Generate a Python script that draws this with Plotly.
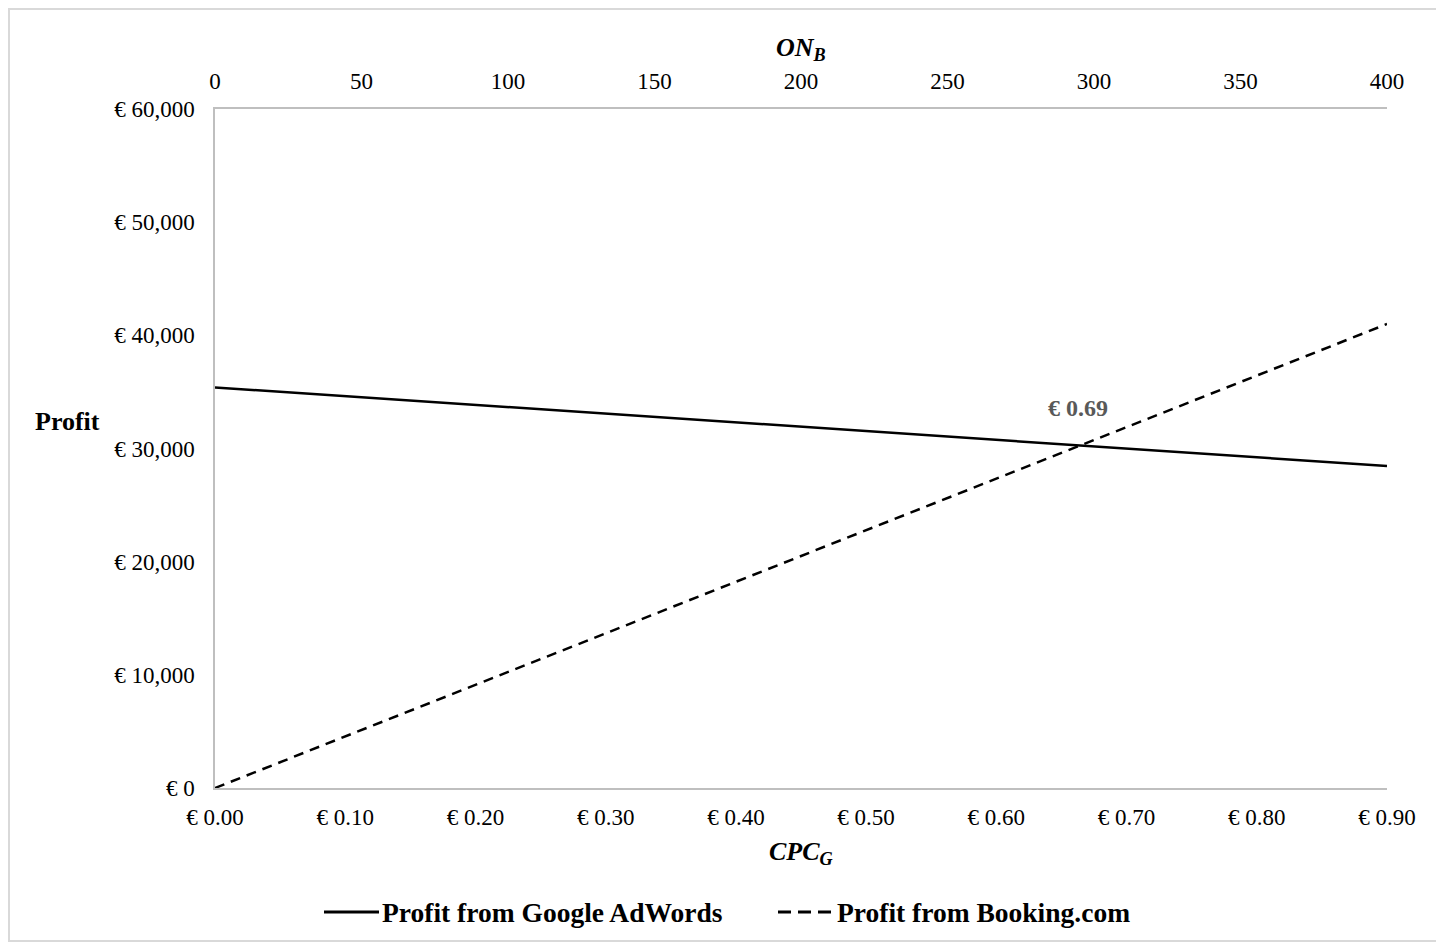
import plotly.graph_objects as go

# Data
cpc_g = [0.0, 0.90]                 # CPC_G (bottom axis)
profit_google = [35400, 28450]      # Profit from Google AdWords
on_b = [0, 400]                     # ON_B (top axis)
profit_booking = [0, 41000]         # Profit from Booking.com
series_names = ["Profit from Google AdWords", "Profit from Booking.com"]
break_even_label = "€ 0.69"
break_even_x = 0.663
break_even_y = 33600

FONT = "Liberation Serif, Times New Roman, serif"
AXIS_COLOR = "#bfbfbf"

# plot area position on the page (reference pixels)
PL, PT, PW, PH = 214, 108, 1172, 679
OFF = 7  # page offset of the figure


def px(x):
    return (x - PL) / PW


def py(y):
    return (PT + PH - y) / PH


fig = go.Figure()
fig.add_trace(go.Scatter(
    x=cpc_g, y=profit_google, mode="lines", name=series_names[0],
    line=dict(color="black", width=2.5), xaxis="x", yaxis="y"))
fig.add_trace(go.Scatter(
    x=on_b, y=profit_booking, mode="lines", name=series_names[1],
    line=dict(color="black", width=2.5, dash="10px,7px"), xaxis="x2", yaxis="y"))

fig.update_layout(
    width=1444, height=942,
    margin=dict(l=PL - OFF, r=1444 - PL - PW + OFF, t=PT - OFF, b=942 - PT - PH + OFF),
    paper_bgcolor="white", plot_bgcolor="white",
    font=dict(family=FONT, size=23, color="black"),
    showlegend=False,
    xaxis=dict(range=[0, 0.9], dtick=0.1, tick0=0, tickprefix="€ ", tickformat=".2f",
               showgrid=False, zeroline=False, showline=True, linecolor=AXIS_COLOR, linewidth=1.5,
               ticks="", ticklabelstandoff=8, tickfont=dict(size=23)),
    xaxis2=dict(range=[0, 400], dtick=50, tick0=0, overlaying="x", side="top",
                showgrid=False, zeroline=False, showline=True, linecolor=AXIS_COLOR, linewidth=1.5,
                ticks="", ticklabelstandoff=9, tickfont=dict(size=23)),
    yaxis=dict(range=[0, 60000], dtick=10000, tickprefix="€ ", tickformat=",d",
               showgrid=False, zeroline=False, showline=True, linecolor=AXIS_COLOR, linewidth=1.5,
               ticks="", ticklabelstandoff=14, tickfont=dict(size=23)),
)

fig.add_annotation(text="<b>Profit</b>", xref="paper", yref="paper",
                   x=px(66), y=py(420), xanchor="center", yanchor="middle", showarrow=False,
                   font=dict(family=FONT, size=26, color="black"))
fig.add_annotation(text="<b><i>ON<sub>B</sub></i></b>", xref="paper", yref="paper",
                   x=px(800), y=py(48), xanchor="center", yanchor="middle", showarrow=False,
                   font=dict(family=FONT, size=26, color="black"))
fig.add_annotation(text="<b><i>CPC<sub>G</sub></i></b>", xref="paper", yref="paper",
                   x=px(800), y=py(852), xanchor="center", yanchor="middle", showarrow=False,
                   font=dict(family=FONT, size=26, color="black"))
fig.add_annotation(text="<b>" + break_even_label + "</b>", xref="x", yref="y",
                   x=break_even_x, y=break_even_y, xanchor="center", yanchor="middle",
                   showarrow=False,
                   font=dict(family=FONT, size=24, color="#595959"))

# legend (drawn manually to match sample lengths)
LEG_Y = py(911)
fig.add_shape(type="line", xref="paper", yref="paper", x0=px(323), x1=px(378), y0=LEG_Y, y1=LEG_Y,
              line=dict(color="black", width=3))
fig.add_shape(type="line", xref="paper", yref="paper", x0=px(777), x1=px(830), y0=LEG_Y, y1=LEG_Y,
              line=dict(color="black", width=3, dash="13px,7px"))
fig.add_annotation(text="<b>" + series_names[0] + "</b>", xref="paper", yref="paper",
                   x=px(379), y=LEG_Y, xanchor="left", yanchor="middle", showarrow=False,
                   font=dict(family=FONT, size=27.5, color="black"))
fig.add_annotation(text="<b>" + series_names[1] + "</b>", xref="paper", yref="paper",
                   x=px(834), y=LEG_Y, xanchor="left", yanchor="middle", showarrow=False,
                   font=dict(family=FONT, size=27.5, color="black"))

# outer chart border
fig.add_shape(type="rect", xref="paper", yref="paper",
              x0=px(8), x1=px(1436), y0=py(940), y1=py(8),
              line=dict(color="#d9d9d9", width=2), fillcolor="rgba(0,0,0,0)", layer="below")

fig.write_html("out.html")
